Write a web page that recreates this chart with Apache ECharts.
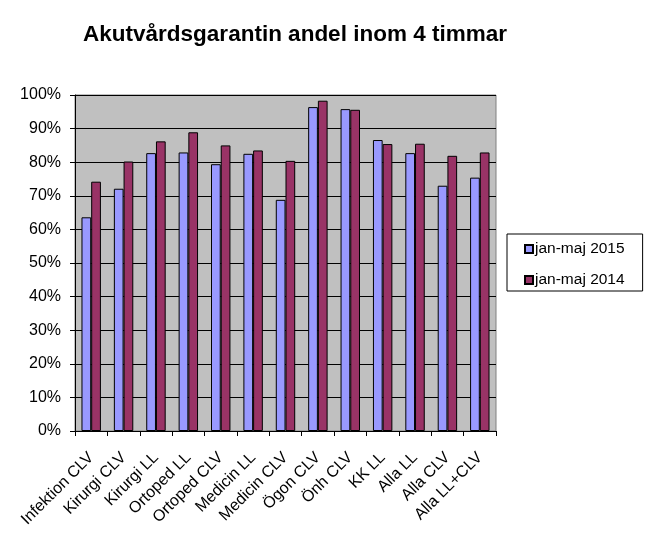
<!doctype html>
<html>
<head>
<meta charset="UTF-8">
<title>Akutvårdsgarantin</title>
<script src="https://cdn.jsdelivr.net/npm/echarts@6/dist/echarts.min.js"></script>
<style>
  html, body { margin: 0; padding: 0; background: #fff; }
  #main { width: 649px; height: 555px; }
</style>
</head>
<body>
<div id="main"></div>
<script>
var categories = ['Infektion CLV', 'Kirurgi CLV', 'Kirurgi LL', 'Ortoped LL', 'Ortoped CLV', 'Medicin LL',
  'Medicin CLV', 'Ögon CLV', 'Önh CLV', 'KK LL', 'Alla LL', 'Alla CLV', 'Alla LL+CLV'];
// andel inom 4 timmar (0-1)
var values2015 = [0.636, 0.721, 0.827, 0.829, 0.794, 0.825, 0.688, 0.964, 0.958, 0.866, 0.827, 0.730, 0.754];
var values2014 = [0.742, 0.802, 0.862, 0.889, 0.850, 0.835, 0.804, 0.983, 0.956, 0.854, 0.855, 0.819, 0.829];
var seriesNames = ['jan-maj 2015', 'jan-maj 2014'];

var chart = echarts.init(document.getElementById('main'));
var font = 'Liberation Sans, Arial, sans-serif';

var option = {
  backgroundColor: '#fff',
  animation: false,
  title: {
    text: 'Akutvårdsgarantin andel inom 4 timmar',
    left: 290,
    textAlign: 'center',
    top: 18,
    textStyle: { fontFamily: font, fontSize: 22.5, fontWeight: 'bold', color: '#000' }
  },
  legend: {
    orient: 'vertical',
    left: 507,
    top: 234,
    data: seriesNames,
    icon: 'rect',
    itemWidth: 8,
    itemHeight: 8,
    itemGap: 15,
    padding: [7, 18, 3, 17],
    borderColor: '#000',
    borderWidth: 1,
    textStyle: { fontFamily: font, fontSize: 15.5, color: '#000', padding: [0, 0, 0, -3] }
  },
  grid: {
    left: 75,
    right: 153,
    top: 95,
    bottom: 124,
    show: true,
    backgroundColor: '#C0C0C0',
    borderColor: '#808080',
    borderWidth: 1
  },
  xAxis: {
    type: 'category',
    data: categories,
    axisLine: { lineStyle: { color: '#000', width: 1 } },
    axisTick: { show: true, length: 5, lineStyle: { color: '#000' } },
    axisLabel: {
      interval: 0,
      rotate: 45,
      margin: 24,
      fontFamily: font,
      fontSize: 16,
      color: '#000'
    }
  },
  yAxis: {
    type: 'value',
    min: 0,
    max: 1,
    interval: 0.1,
    axisLine: { show: true, lineStyle: { color: '#000', width: 1 } },
    axisTick: { show: true, length: 5, lineStyle: { color: '#000' } },
    splitLine: { show: true, lineStyle: { color: '#000', width: 1 } },
    axisLabel: {
      margin: 14,
      fontFamily: font,
      fontSize: 16,
      color: '#000',
      formatter: function (v) { return Math.round(v * 100) + '%'; }
    }
  },
  series: [{
    name: seriesNames[0],
    type: 'bar',
    data: values2015,
    barGap: '0%',
    barCategoryGap: '40%',
    itemStyle: { color: '#9999FF', borderColor: '#000', borderWidth: 1 }
  }, {
    name: seriesNames[1],
    type: 'bar',
    data: values2014,
    itemStyle: { color: '#993366', borderColor: '#000', borderWidth: 1 }
  }]
};
chart.setOption(option);
</script>
</body>
</html>
